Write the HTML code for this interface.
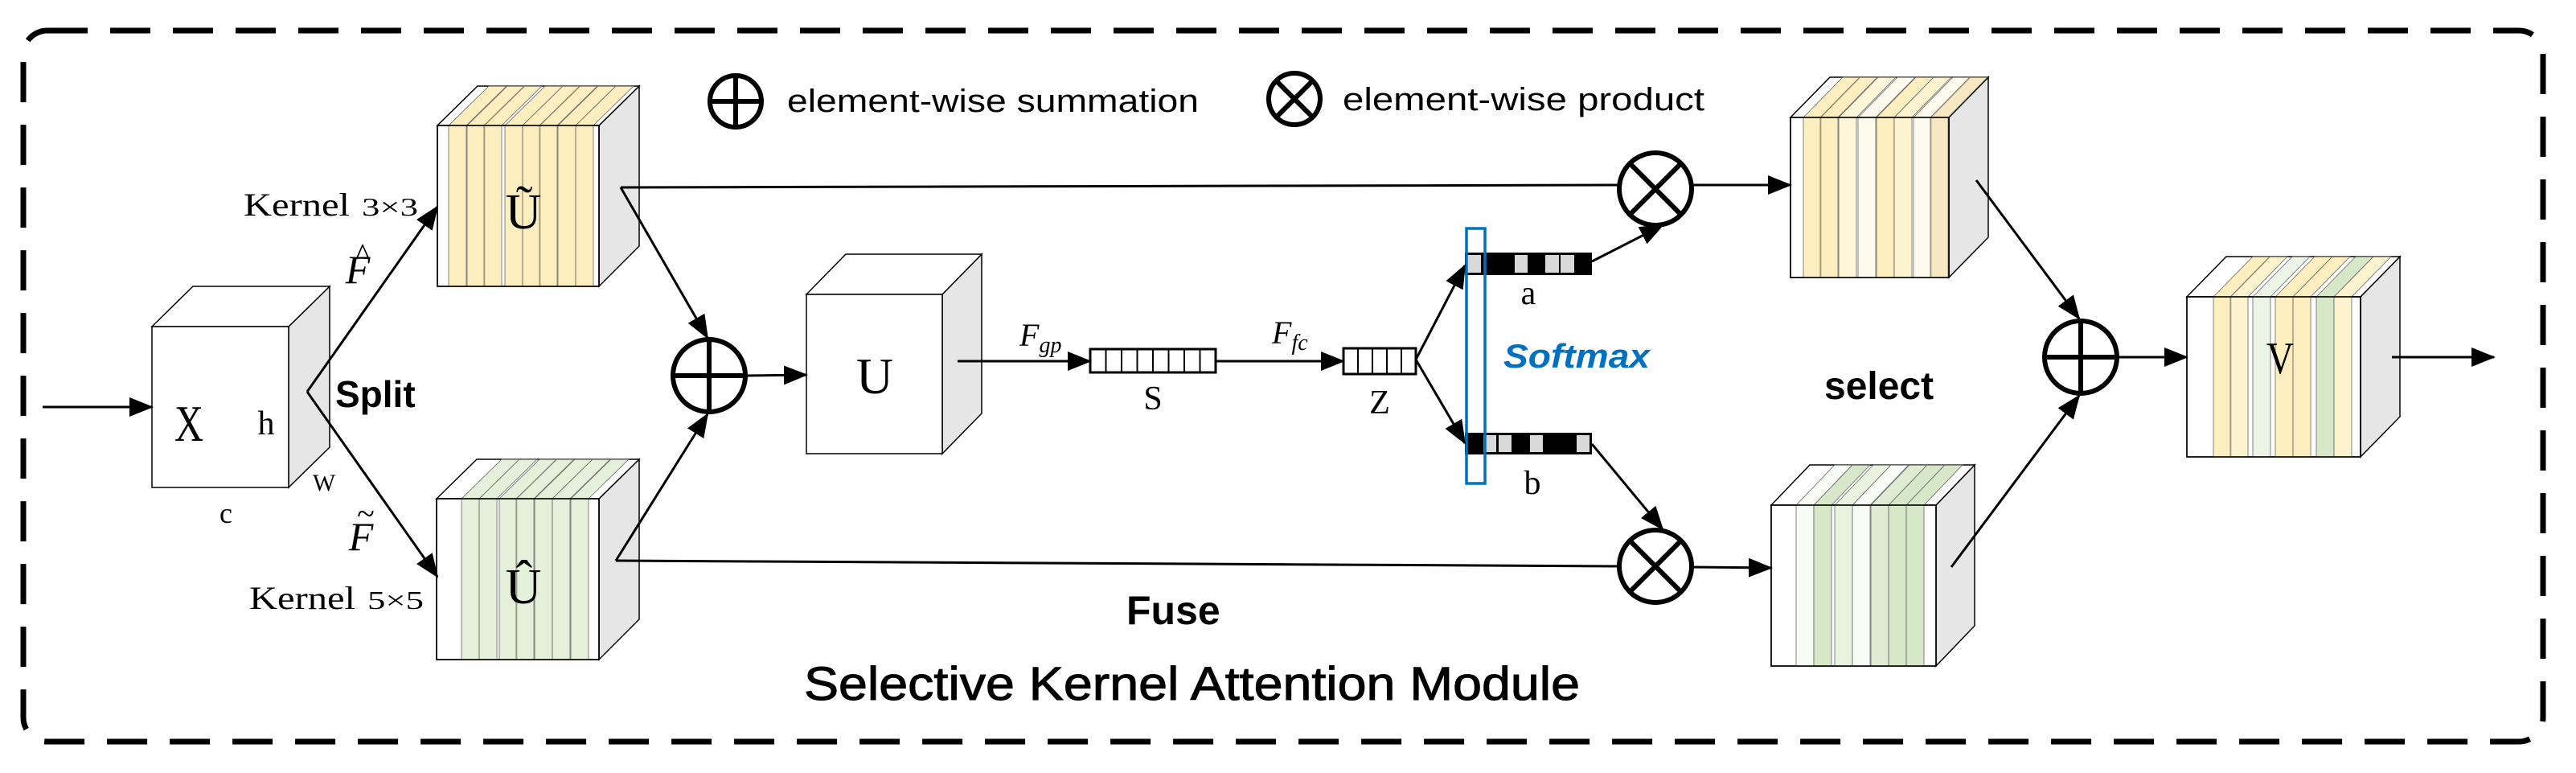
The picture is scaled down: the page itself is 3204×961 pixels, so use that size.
<!DOCTYPE html>
<html><head><meta charset="utf-8"><style>
html,body{margin:0;padding:0;background:#fff;}
svg{display:block}
.serif{font-family:"Liberation Serif","Noto Serif CJK SC",serif;}
.sans{font-family:"Liberation Sans","Noto Sans CJK SC",sans-serif;}
</style></head><body>
<svg width="3204" height="961" viewBox="0 0 3204 961" xmlns="http://www.w3.org/2000/svg">
<defs>
<marker id="ah" markerUnits="userSpaceOnUse" markerWidth="30" markerHeight="24" refX="28" refY="12" orient="auto">
<path d="M0,0 L30,12 L0,24 Z" fill="#000"/></marker>
</defs>
<rect x="0" y="0" width="3204" height="961" fill="#fff"/>
<rect x="29" y="38" width="3134" height="884" rx="30" ry="30" fill="none" stroke="#000" stroke-width="7" stroke-dasharray="50 28"/>

<g stroke="#000" stroke-width="1.5">
<polygon points="359,406 410,356 410,556 359,606" fill="#e6e6e6"/>
<polygon points="189,406 240,356 410,356 359,406" fill="#fff"/>
<rect x="189" y="406" width="170" height="200" fill="#fff"/>
<polygon points="745,156 795,107 795,306 745,356" fill="#e6e6e6"/>
<polygon points="544,156 594,107 795,107 745,156" fill="#fff"/>
<rect x="544" y="156" width="201" height="200" fill="#fff"/>
<polygon points="745,620 795,571 795,770 745,820" fill="#e6e6e6"/>
<polygon points="543,620 593,571 795,571 745,620" fill="#fff"/>
<rect x="543" y="620" width="202" height="200" fill="#fff"/>
<polygon points="1172,366 1221,316 1221,514 1172,564" fill="#e6e6e6"/>
<polygon points="1003,366 1052,316 1221,316 1172,366" fill="#fff"/>
<rect x="1003" y="366" width="169" height="198" fill="#fff"/>
<polygon points="2424,146 2473,96 2473,295 2424,345" fill="#e6e6e6"/>
<polygon points="2227,146 2276,96 2473,96 2424,146" fill="#fff"/>
<rect x="2227" y="146" width="197" height="199" fill="#fff"/>
<polygon points="2408,628 2456,578 2456,778 2408,828" fill="#e6e6e6"/>
<polygon points="2203,628 2251,578 2456,578 2408,628" fill="#fff"/>
<rect x="2203" y="628" width="205" height="200" fill="#fff"/>
<polygon points="2936,369 2985,319 2985,518 2936,568" fill="#e6e6e6"/>
<polygon points="2720,369 2769,319 2985,319 2936,369" fill="#fff"/>
<rect x="2720" y="369" width="216" height="199" fill="#fff"/>
</g>

<g stroke="#666" stroke-width="0.8" fill-opacity="0.55">
<g fill="#fbe08a">
<polygon points="558,356 558,156 608,107 630,107 580,156 580,356"/>
<polygon points="581,356 581,156 631,107 653,107 603,156 603,356"/>
<polygon points="602,356 602,156 652,107 674,107 624,156 624,356"/>
<polygon points="628,356 628,156 678,107 700,107 650,156 650,356"/>
<polygon points="650,356 650,156 700,107 722,107 672,156 672,356"/>
<polygon points="671,356 671,156 721,107 743,107 693,156 693,356"/>
<polygon points="694,356 694,156 744,107 766,107 716,156 716,356"/>
<polygon points="716,356 716,156 766,107 788,107 738,156 738,356"/>
</g>
<g fill="#cfe4bb">
<polygon points="574,820 574,620 624,571 646,571 596,620 596,820"/>
<polygon points="596,820 596,620 646,571 668,571 618,620 618,820"/>
<polygon points="621,820 621,620 671,571 693,571 643,620 643,820"/>
<polygon points="642,820 642,620 692,571 714,571 664,620 664,820"/>
<polygon points="665,820 665,620 715,571 737,571 687,620 687,820"/>
<polygon points="687,820 687,620 737,571 759,571 709,620 709,820"/>
<polygon points="710,820 710,620 760,571 782,571 732,620 732,820"/>
</g>
<polygon fill="#fbe08a" points="2243,345 2243,146 2292,96 2314,96 2265,146 2265,345"/>
<polygon fill="#fbe08a" points="2264,345 2264,146 2313,96 2335,96 2286,146 2286,345"/>
<polygon fill="#fdeeb8" points="2287,345 2287,146 2336,96 2358,96 2309,146 2309,345"/>
<polygon fill="#fef7e0" points="2311,345 2311,146 2360,96 2382,96 2333,146 2333,345"/>
<polygon fill="#fbe08a" points="2334,345 2334,146 2383,96 2405,96 2356,146 2356,345"/>
<polygon fill="#fce9a8" points="2356,345 2356,146 2405,96 2427,96 2378,146 2378,345"/>
<polygon fill="#fef7e0" points="2380,345 2380,146 2429,96 2451,96 2402,146 2402,345"/>
<polygon fill="#f3d590" points="2401,345 2401,146 2450,96 2472,96 2423,146 2423,345"/>
<polygon fill="#f3f8ee" points="2234,828 2234,628 2282,578 2304,578 2256,628 2256,828"/>
<polygon fill="#b5d69a" points="2256,828 2256,628 2304,578 2326,578 2278,628 2278,828"/>
<polygon fill="#d5e8c4" points="2282,828 2282,628 2330,578 2352,578 2304,628 2304,828"/>
<polygon fill="#f3f8ee" points="2304,828 2304,628 2352,578 2374,578 2326,628 2326,828"/>
<polygon fill="#c4dcae" points="2327,828 2327,628 2375,578 2397,578 2349,628 2349,828"/>
<polygon fill="#b5d69a" points="2349,828 2349,628 2397,578 2419,578 2371,628 2371,828"/>
<polygon fill="#b5d69a" points="2371,828 2371,628 2419,578 2441,578 2393,628 2393,828"/>
<polygon fill="#fbe08a" points="2753,568 2753,369 2802,319 2824,319 2775,369 2775,568"/>
<polygon fill="#fce9a8" points="2774,568 2774,369 2823,319 2845,319 2796,369 2796,568"/>
<polygon fill="#dcecd0" points="2802,568 2802,369 2851,319 2873,319 2824,369 2824,568"/>
<polygon fill="#fbe08a" points="2830,568 2830,369 2879,319 2901,319 2852,369 2852,568"/>
<polygon fill="#fbe08a" points="2852,568 2852,369 2901,319 2923,319 2874,369 2874,568"/>
<polygon fill="#b5d69a" points="2881,568 2881,369 2930,319 2952,319 2903,369 2903,568"/>
<polygon fill="#fce9a8" points="2903,568 2903,369 2952,319 2974,319 2925,369 2925,568"/>
</g>
<g fill="none" stroke="#000" stroke-width="1.5">
<rect x="544" y="156" width="201" height="200"/>
<rect x="543" y="620" width="202" height="200"/>
<rect x="2227" y="146" width="197" height="199"/>
<rect x="2203" y="628" width="205" height="200"/>
<rect x="2720" y="369" width="216" height="199"/>
</g>

<g stroke="#000" stroke-width="3" fill="#fff">
<rect x="1356" y="434" width="156" height="29"/>
<rect x="1671" y="433" width="90" height="32"/>
</g>
<g stroke="#000" stroke-width="2">
<line x1="1375.5" y1="434" x2="1375.5" y2="463"/><line x1="1395" y1="434" x2="1395" y2="463"/>
<line x1="1414.5" y1="434" x2="1414.5" y2="463"/><line x1="1434" y1="434" x2="1434" y2="463"/>
<line x1="1453.5" y1="434" x2="1453.5" y2="463"/><line x1="1473" y1="434" x2="1473" y2="463"/>
<line x1="1492.5" y1="434" x2="1492.5" y2="463"/>
<line x1="1689" y1="433" x2="1689" y2="465"/><line x1="1707" y1="433" x2="1707" y2="465"/>
<line x1="1725" y1="433" x2="1725" y2="465"/><line x1="1743" y1="433" x2="1743" y2="465"/>
</g>
<rect x="1822" y="314" width="158" height="28" fill="#000"/>
<g fill="#d9d9d9"><rect x="1825" y="317" width="17" height="22"/><rect x="1884" y="317" width="16" height="22"/><rect x="1922" y="317" width="17" height="22"/><rect x="1941" y="317" width="17" height="22"/></g>
<rect x="1822" y="538" width="158" height="27" fill="#000"/>
<g fill="#d9d9d9"><rect x="1845" y="541" width="16" height="21"/><rect x="1864" y="541" width="16" height="21"/><rect x="1903" y="541" width="16" height="21"/><rect x="1961" y="541" width="16" height="21"/></g>
<rect x="1824" y="284" width="23" height="317" fill="none" stroke="#0070c0" stroke-width="3.5"/>

<g stroke="#000" stroke-width="3" fill="none">
<line x1="53" y1="506" x2="189" y2="506" marker-end="url(#ah)"/>
<line x1="382" y1="487" x2="544" y2="717" marker-end="url(#ah)"/>
<line x1="382" y1="487" x2="544" y2="257" marker-end="url(#ah)"/>
<line x1="772" y1="233" x2="880" y2="420" marker-end="url(#ah)"/>
<line x1="766" y1="697" x2="880" y2="515" marker-end="url(#ah)"/>
<line x1="772" y1="233" x2="2013" y2="230"/>
<line x1="766" y1="697" x2="2013" y2="704"/>
<line x1="929" y1="467" x2="1003" y2="466" marker-end="url(#ah)"/>
<line x1="1191" y1="449" x2="1356" y2="449" marker-end="url(#ah)"/>
<line x1="1512" y1="449" x2="1671" y2="449" marker-end="url(#ah)"/>
<line x1="1761" y1="447" x2="1822" y2="330" marker-end="url(#ah)"/>
<line x1="1761" y1="447" x2="1822" y2="551" marker-end="url(#ah)"/>
<line x1="1980" y1="325" x2="2068" y2="280" marker-end="url(#ah)"/>
<line x1="1980" y1="552" x2="2068" y2="658" marker-end="url(#ah)"/>
<line x1="2105" y1="230" x2="2227" y2="230" marker-end="url(#ah)"/>
<line x1="2105" y1="705" x2="2203" y2="706" marker-end="url(#ah)"/>
<line x1="2458" y1="224" x2="2586" y2="396" marker-end="url(#ah)"/>
<line x1="2427" y1="705" x2="2586" y2="492" marker-end="url(#ah)"/>
<line x1="2634" y1="444" x2="2720" y2="444" marker-end="url(#ah)"/>
<line x1="2975" y1="444" x2="3102" y2="444" marker-end="url(#ah)"/>
</g>

<g stroke="#000" stroke-width="6" fill="#fff">
<circle cx="882" cy="467" r="45"/>
<circle cx="2059" cy="235" r="45"/>
<circle cx="2059" cy="704" r="45"/>
<circle cx="2588" cy="444" r="45"/>
<circle cx="915" cy="126" r="32"/>
<circle cx="1610" cy="123" r="32"/>
</g>
<g stroke="#000" stroke-width="6">
<line x1="837" y1="467" x2="927" y2="467"/><line x1="882" y1="422" x2="882" y2="512"/>
<line x1="2543" y1="444" x2="2633" y2="444"/><line x1="2588" y1="399" x2="2588" y2="489"/>
<line x1="883" y1="126" x2="947" y2="126"/><line x1="915" y1="94" x2="915" y2="158"/>
<line x1="2027" y1="203" x2="2091" y2="267"/><line x1="2091" y1="203" x2="2027" y2="267"/>
<line x1="2027" y1="672" x2="2091" y2="736"/><line x1="2091" y1="672" x2="2027" y2="736"/>
<line x1="1587" y1="100" x2="1633" y2="146"/><line x1="1633" y1="100" x2="1587" y2="146"/>
</g>

<g class="serif" fill="#000">
<text x="235" y="548" font-size="64" text-anchor="middle" textLength="36" lengthAdjust="spacingAndGlyphs">X</text>
<text x="331" y="540" font-size="42" text-anchor="middle">h</text>
<text x="403" y="610" font-size="30" text-anchor="middle">W</text>
<text x="281" y="650" font-size="36" text-anchor="middle">c</text>
<text x="651" y="284" font-size="62" text-anchor="middle">Ũ</text>
<text x="651" y="750" font-size="62" text-anchor="middle">Û</text>
<text x="1088" y="489" font-size="64" text-anchor="middle">U</text>
<text x="2836" y="464" font-size="56" text-anchor="middle" textLength="34" lengthAdjust="spacingAndGlyphs">V</text>
<text x="1434" y="509" font-size="42" text-anchor="middle">S</text>
<text x="1716" y="514" font-size="42" text-anchor="middle">Z</text>
<text x="1901" y="378" font-size="42" text-anchor="middle">a</text>
<text x="1906" y="614" font-size="42" text-anchor="middle">b</text>
<text x="303" y="268" font-size="40" textLength="132" lengthAdjust="spacingAndGlyphs">Kernel</text><text x="450" y="268" font-size="32" textLength="70" lengthAdjust="spacingAndGlyphs">3×3</text>
<text x="310" y="757" font-size="40" textLength="132" lengthAdjust="spacingAndGlyphs">Kernel</text><text x="457" y="757" font-size="32" textLength="70" lengthAdjust="spacingAndGlyphs">5×5</text>
<text x="445" y="352" font-size="50" font-style="italic" text-anchor="middle">F</text>
<text x="451" y="330" font-size="40" text-anchor="middle">^</text>
<text x="449" y="684" font-size="50" font-style="italic" text-anchor="middle">F</text>
<text x="455" y="652" font-size="40" text-anchor="middle">~</text>
<text x="1268" y="430" font-size="40" font-style="italic">F<tspan font-size="28" dy="8">gp</tspan></text>
<text x="1582" y="427" font-size="40" font-style="italic">F<tspan font-size="28" dy="8">fc</tspan></text>
</g>
<g class="sans" fill="#000">
<text x="417" y="506" font-size="46" font-weight="bold">Split</text>
<text x="1401" y="776" font-size="50" font-weight="bold">Fuse</text>
<text x="2269" y="496" font-size="48" font-weight="bold">select</text>
<text x="1000" y="870" font-size="58" textLength="965" lengthAdjust="spacingAndGlyphs" stroke="#000" stroke-width="1">Selective Kernel Attention Module</text>
<text x="979" y="139" font-size="40" textLength="512" lengthAdjust="spacingAndGlyphs">element-wise summation</text>
<text x="1670" y="137" font-size="40" textLength="450" lengthAdjust="spacingAndGlyphs">element-wise product</text>
<text x="1870" y="457" font-size="42" font-weight="bold" font-style="italic" fill="#0070c0" textLength="182" lengthAdjust="spacingAndGlyphs">Softmax</text>
</g>
</svg>
</body></html>
